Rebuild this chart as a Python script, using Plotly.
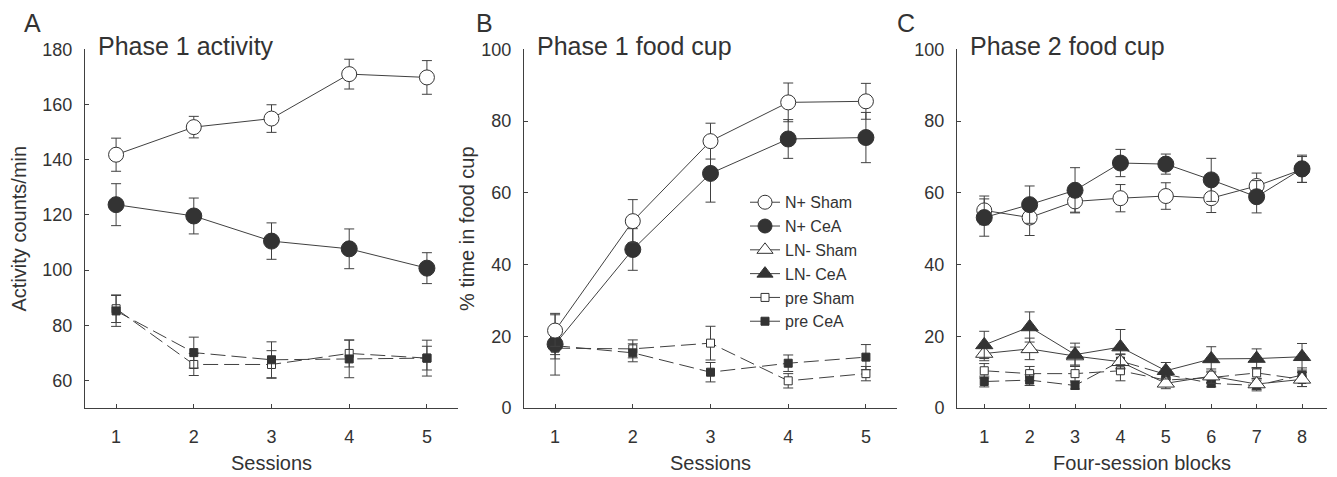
import plotly.graph_objects as go

# ---------------- data ----------------
sessions = [1, 2, 3, 4, 5]
blocks = [1, 2, 3, 4, 5, 6, 7, 8]

# Panel A: Phase 1 activity (counts/min)
a_nplus_sham = [141.8, 151.8, 154.9, 171.0, 169.8]
a_nplus_sham_se = [6.0, 3.9, 5.0, 5.4, 6.1]
a_nplus_cea = [123.7, 119.6, 110.5, 107.7, 100.7]
a_nplus_cea_se = [7.6, 6.5, 6.6, 7.2, 5.6]
a_pre_sham = [86.0, 65.8, 65.8, 69.8, 68.1]
a_pre_sham_se = [5.0, 4.0, 5.0, 4.9, 4.3]
a_pre_cea = [85.2, 70.1, 67.5, 67.8, 68.1]
a_pre_cea_se = [5.6, 5.6, 6.5, 6.8, 6.5]

# Panel B: Phase 1 food cup (% time)
b_nplus_sham = [21.6, 52.1, 74.4, 85.2, 85.5]
b_nplus_sham_se = [4.4, 6.0, 5.0, 5.4, 5.0]
b_nplus_cea = [17.8, 44.2, 65.4, 75.0, 75.4]
b_nplus_cea_se = [8.6, 5.8, 8.0, 5.4, 7.0]
b_pre_sham = [16.7, 16.5, 18.1, 7.6, 9.6]
b_pre_sham_se = [3.0, 2.5, 4.7, 2.0, 2.0]
b_pre_cea = [17.4, 15.4, 10.0, 12.5, 14.2]
b_pre_cea_se = [2.5, 2.5, 2.7, 2.3, 3.5]

# Panel C: Phase 2 food cup (% time)
c_nplus_sham = [55.1, 53.1, 57.6, 58.5, 59.1, 58.5, 61.9, 66.5]
c_nplus_sham_se = [4.0, 5.0, 3.0, 3.8, 3.7, 4.0, 3.6, 3.6]
c_nplus_cea = [53.1, 56.7, 60.7, 68.3, 68.0, 63.6, 58.9, 66.7]
c_nplus_cea_se = [5.2, 5.2, 6.3, 3.8, 2.8, 6.0, 4.5, 3.8]
c_ln_sham = [15.2, 16.5, 14.5, 12.9, 6.9, 8.9, 6.7, 8.0]
c_ln_sham_se = [2.0, 3.0, 2.5, 2.0, 1.5, 2.0, 1.5, 2.0]
c_ln_cea = [17.6, 22.6, 14.9, 17.0, 10.4, 13.7, 13.8, 14.3]
c_ln_cea_se = [3.8, 4.2, 3.2, 4.9, 2.3, 3.4, 2.7, 3.7]
c_pre_sham = [10.4, 9.6, 9.6, 10.4, 7.8, 8.5, 9.8, 8.0]
c_pre_sham_se = [2.0, 2.0, 2.0, 2.8, 1.5, 1.5, 1.5, 2.0]
c_pre_cea = [7.4, 7.8, 6.3, 13.1, 9.4, 6.9, 6.3, 9.2]
c_pre_cea_se = [1.5, 1.5, 1.0, 2.0, 1.5, 1.0, 1.5, 2.0]

legend_names = ["N+ Sham", "N+ CeA", "LN- Sham", "LN- CeA", "pre Sham", "pre CeA"]

# ---------------- styles ----------------
INK = "#333333"
LINE = "#404040"
FONT = "Liberation Sans, Arial, sans-serif"

styles = {
    "N+ Sham": dict(symbol="circle", size=15, fill="white", dash="solid"),
    "N+ CeA": dict(symbol="circle", size=16, fill=INK, dash="solid"),
    "LN- Sham": dict(symbol="triangle-up", size=15, fill="white", dash="solid"),
    "LN- CeA": dict(symbol="triangle-up", size=15, fill=INK, dash="solid"),
    "pre Sham": dict(symbol="square", size=8, fill="white", dash="15px,6px"),
    "pre CeA": dict(symbol="square", size=8, fill=INK, dash="15px,6px"),
}

fig = go.Figure()


def add(name, x, y, se, xa, ya):
    st = styles[name]
    fig.add_trace(go.Scatter(
        x=x, y=y, xaxis=xa, yaxis=ya, mode="lines+markers", name=name,
        showlegend=False,
        line=dict(color=LINE, width=1, dash=st["dash"]),
        marker=dict(symbol=st["symbol"], size=st["size"], color=st["fill"],
                    line=dict(color=INK, width=1)),
        error_y=dict(type="data", array=se, visible=True, color=LINE,
                     thickness=1, width=5),
    ))


# Panel A
add("pre Sham", sessions, a_pre_sham, a_pre_sham_se, "x", "y")
add("pre CeA", sessions, a_pre_cea, a_pre_cea_se, "x", "y")
add("N+ CeA", sessions, a_nplus_cea, a_nplus_cea_se, "x", "y")
add("N+ Sham", sessions, a_nplus_sham, a_nplus_sham_se, "x", "y")
# Panel B
add("pre Sham", sessions, b_pre_sham, b_pre_sham_se, "x2", "y2")
add("pre CeA", sessions, b_pre_cea, b_pre_cea_se, "x2", "y2")
add("N+ CeA", sessions, b_nplus_cea, b_nplus_cea_se, "x2", "y2")
add("N+ Sham", sessions, b_nplus_sham, b_nplus_sham_se, "x2", "y2")
# Panel C
add("pre Sham", blocks, c_pre_sham, c_pre_sham_se, "x3", "y3")
add("pre CeA", blocks, c_pre_cea, c_pre_cea_se, "x3", "y3")
add("LN- Sham", blocks, c_ln_sham, c_ln_sham_se, "x3", "y3")
add("LN- CeA", blocks, c_ln_cea, c_ln_cea_se, "x3", "y3")
add("N+ Sham", blocks, c_nplus_sham, c_nplus_sham_se, "x3", "y3")
add("N+ CeA", blocks, c_nplus_cea, c_nplus_cea_se, "x3", "y3")

# Legend entries (solid line samples, as in the original legend)
for i, name in enumerate(legend_names):
    st = styles[name]
    fig.add_trace(go.Scatter(
        x=[None], y=[None], xaxis="x2", yaxis="y2", mode="lines+markers",
        name=name, legendgroup=f"g{i}", showlegend=True,
        line=dict(color=LINE, width=1),
        marker=dict(symbol=st["symbol"], size=min(st["size"], 14), color=st["fill"],
                    line=dict(color=INK, width=1)),
    ))

W, H = 1337, 477
ytop, ybot = 41, 415.5
ydom = [(H - ybot) / H, (H - ytop) / H]

axis_common = dict(showline=True, linecolor=LINE, linewidth=1, ticks="inside",
                   ticklen=4, tickwidth=1, tickcolor=LINE, showgrid=False,
                   zeroline=False, tickfont=dict(family=FONT, size=18, color=INK),
                   title_font=dict(family=FONT, size=20, color=INK))


def xax(domain, rng, dtick, title):
    d = dict(axis_common)
    d.update(domain=domain, range=rng, dtick=dtick, tick0=1,
             ticklabelstandoff=12, title=dict(text=title, standoff=10))
    return d


def yax(domain, rng, dtick, title, anchor, standoff):
    d = dict(axis_common)
    d.update(domain=domain, range=rng, dtick=dtick, anchor=anchor,
             ticklabelstandoff=8, title=dict(text=title, standoff=standoff))
    return d


fig.update_layout(
    width=W, height=H, autosize=False,
    margin=dict(l=0, r=0, t=0, b=0),
    paper_bgcolor="white", plot_bgcolor="white",
    font=dict(family=FONT, color=INK),
    xaxis=xax([85 / W, 458 / W], [0.6, 5.4], 1, "Sessions"),
    yaxis=yax(ydom, [50, 180], 20, "Activity counts/min", "x", 10),
    xaxis2=xax([524 / W, 897 / W], [0.6, 5.4], 1, "Sessions"),
    yaxis2=yax(ydom, [0, 100], 20, "% time in food cup", "x2", 1),
    xaxis3=xax([957 / W, 1327 / W], [0.4, 8.55], 1, "Four-session blocks"),
    yaxis3=yax(ydom, [0, 100], 20, None, "x3", 10),
    legend=dict(x=745 / W, y=1 - 183 / H, xanchor="left", yanchor="top",
                bgcolor="rgba(0,0,0,0)", font=dict(family=FONT, size=16, color=INK),
                tracegroupgap=0, itemwidth=30),
)
fig.update_layout(xaxis2_anchor="y2", xaxis3_anchor="y3", xaxis_anchor="y")

# Titles and panel letters
for txt, x in [("Phase 1 activity", 96), ("Phase 1 food cup", 535), ("Phase 2 food cup", 968)]:
    fig.add_annotation(text=txt, x=x / W, y=1 - 38 / H, xref="paper", yref="paper",
                       xanchor="left", yanchor="middle", showarrow=False,
                       font=dict(family=FONT, size=25, color=INK))
for txt, x in [("A", 32), ("B", 484), ("C", 906)]:
    fig.add_annotation(text=txt, x=x / W, y=1 - 14 / H, xref="paper", yref="paper",
                       xanchor="center", yanchor="middle", showarrow=False,
                       font=dict(family=FONT, size=25, color=INK))

fig.write_html("out.html")
